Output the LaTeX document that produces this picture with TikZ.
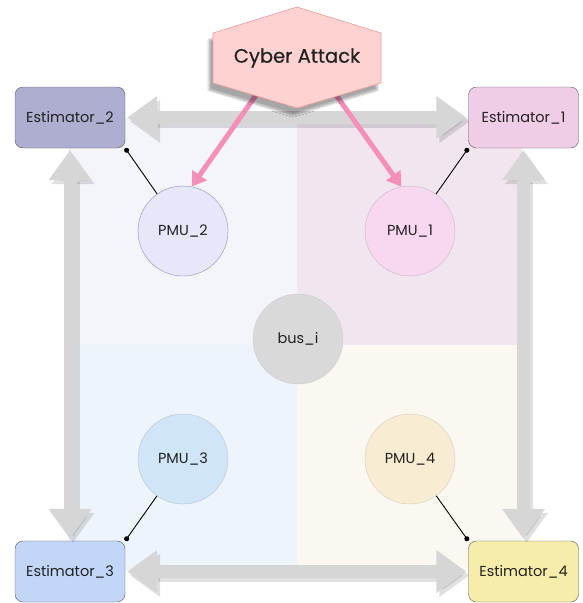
\documentclass[tikz,border=0pt]{standalone}
\usepackage{fontspec}
\setmainfont{Poppins}
\newfontfamily\attackfont{Poppins}[FakeBold=0.5]
\usetikzlibrary{arrows.meta, shadows.blur, positioning}

\definecolor{txt}{HTML}{222222}
\definecolor{estline}{HTML}{5A5A5A}
\definecolor{arrowgray}{HTML}{D6D6D6}
\definecolor{attackpink}{HTML}{F58FBA}
% quadrant fills
\definecolor{quadtl}{HTML}{F4F5FB}
\definecolor{quadtr}{HTML}{F1E6EF}
\definecolor{quadbl}{HTML}{EEF4FC}
\definecolor{quadbr}{HTML}{FAF8F0}
% node fills
\definecolor{estone}{HTML}{EFCDE6}
\definecolor{esttwo}{HTML}{AEAED0}
\definecolor{estthree}{HTML}{C2D6F8}
\definecolor{estfour}{HTML}{F6EDAA}
\definecolor{pmuone}{HTML}{F8D8F0}
\definecolor{pmutwo}{HTML}{E7E7FA}
\definecolor{pmuthree}{HTML}{D0E6F8}
\definecolor{pmufour}{HTML}{F8EDD2}
\definecolor{busfill}{HTML}{D9D9D9}
\definecolor{hexfill}{HTML}{FFD2D2}
\definecolor{hexline}{HTML}{EE9A9A}

\begin{document}
\begin{tikzpicture}[x=1pt, y=-1pt,
    estbox/.style={draw=estline, rounded corners=8pt, minimum width=110pt, minimum height=61pt,
        inner sep=0pt, text=txt, font=\fontsize{14.5}{16}\selectfont},
    pmu/.style={circle, minimum size=90pt, inner sep=0pt, text=txt, font=\fontsize{14.5}{16}\selectfont},
    bigarrow/.style={draw=arrowgray, line width=13pt,
        {Triangle[length=30pt,width=41pt]}-{Triangle[length=30pt,width=41pt]},
        shorten <=2pt, shorten >=2pt},
    arrowshadow/.style={bigarrow, draw=black, draw opacity=0.12, fill opacity=0.12,
        transform canvas={shift={(3pt,-4pt)}}},
    link/.style={black, line width=0.9pt, -{Circle[length=5pt]}},
    hitarrow/.style={draw=attackpink, line width=5pt, -{Triangle[length=14pt,width=17pt]}}
]
    \useasboundingbox (0,0) rectangle (582,603);

    % Quadrants
    \fill[quadtl] (68,118) rectangle (297,345);
    \fill[quadtr] (297,118) rectangle (522,345);
    \fill[quadbl] (68,345) rectangle (297,570);
    \fill[quadbr] (297,345) rectangle (522,570);

    % Estimators
    \node[estbox, fill=estone] (est1) at (523.5,117.5) {Estimator\_1};
    \node[estbox, fill=esttwo] (est2) at (70,117.5) {Estimator\_2};
    \node[estbox, fill=estthree] (est3) at (70,571.5) {Estimator\_3};
    \node[estbox, fill=estfour] (est4) at (523.5,571.5) {Estimator\_4};

    % Exchange between estimators
    \foreach \a/\b in {est2/est1, est3/est4, est2/est3, est1/est4} {
        \draw[arrowshadow] (\a) -- (\b);
        \draw[bigarrow] (\a) -- (\b);
    }

    % PMUs and bus
    \node[pmu, fill=pmuone, draw=pmuone!60!gray] (pmu1) at (410,231) {PMU\_1};
    \node[pmu, fill=pmutwo, draw=pmutwo!45!gray!80!blue] (pmu2) at (183,231) {PMU\_2};
    \node[pmu, fill=pmuthree, draw=pmuthree!65!gray] (pmu3) at (183,459) {PMU\_3};
    \node[pmu, fill=pmufour, draw=pmufour!70!gray] (pmu4) at (410,459) {PMU\_4};
    \node[pmu, fill=busfill, draw=busfill!85!gray] (bus) at (298,339) {bus\_i};

    % PMU to estimator links
    \draw[link] (pmu1) -- (est1.south west);
    \draw[link] (pmu2) -- (est2.south east);
    \draw[link] (pmu3) -- (est3.north east);
    \draw[link] (pmu4) -- (est4.north west);

    % Attack
    \coordinate (hitl) at (256,95);
    \coordinate (hitr) at (336,95);
    \draw[hitarrow] (hitl) -- (pmu2.79);
    \draw[hitarrow] (hitr) -- (pmu1.101);
    \draw[fill=hexfill, draw=hexline, line width=0.6pt,
        blur shadow={shadow xshift=-4pt, shadow yshift=-7pt, shadow opacity=35, shadow blur steps=8}]
        (297,7) -- (381,33) -- (381,83) -- (297,108) -- (213,83) -- (213,33) -- cycle;
    \node[text=txt, font=\attackfont\fontsize{19.5}{22}\selectfont] (attack) at (297,58) {Cyber Attack};
\end{tikzpicture}
\end{document}
